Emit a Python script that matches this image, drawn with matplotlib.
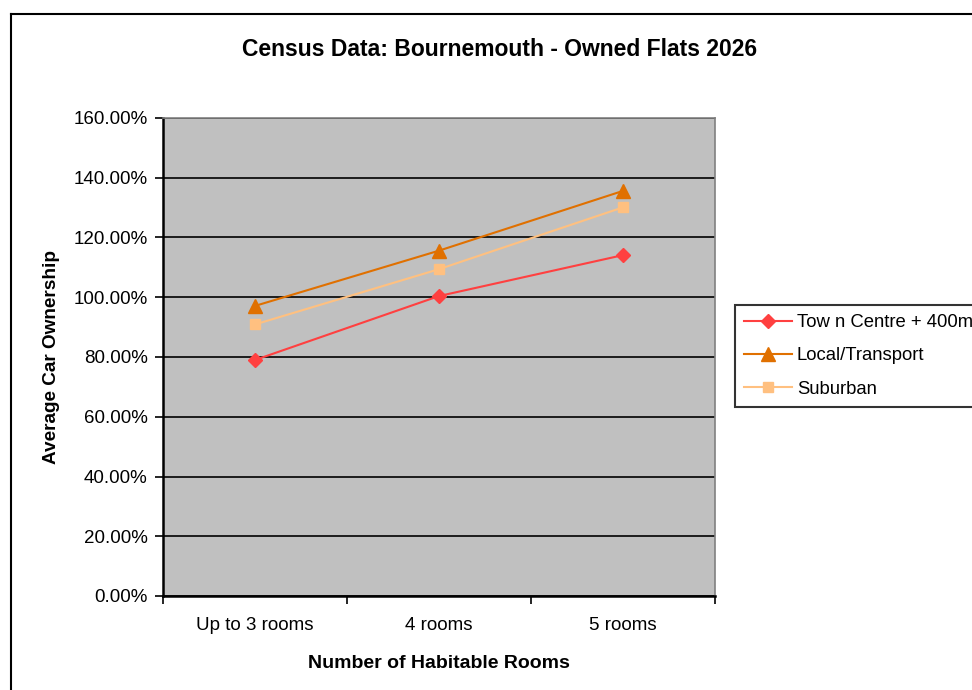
import matplotlib
matplotlib.use('Agg')
import matplotlib.pyplot as plt
from matplotlib.lines import Line2D
from matplotlib.ticker import FuncFormatter, MultipleLocator

plt.rcParams['font.family'] = ['Liberation Sans', 'DejaVu Sans']

rooms = ['Up to 3 rooms', '4 rooms', '5 rooms']
town_centre = [79.0, 100.4, 114.1]
local_transport = [97.1, 115.6, 135.6]
suburban = [90.9, 109.4, 130.1]

series = [
    ('Tow n Centre + 400m', town_centre, '#FF4040', 'D', 7.5),
    ('Local/Transport', local_transport, '#E07000', '^', 9.5),
    ('Suburban', suburban, '#FFC080', 's', 7.5),
]

W, H = 972, 690
fig = plt.figure(figsize=(W / 100, H / 100), dpi=100)
fig.patch.set_facecolor('white')

# chart area border (runs off the right and bottom edges)
fig.add_artist(Line2D([10.5 / W, 10.5 / W], [0, 1 - 14 / H], color='black', lw=1.5))
fig.add_artist(Line2D([10.5 / W, 1], [1 - 14 / H, 1 - 14 / H], color='black', lw=1.5))

ax = fig.add_axes([163 / W, 1 - 596 / H, (715 - 163) / W, (596 - 118) / H])
ax.set_facecolor('#C0C0C0')

x = list(range(len(rooms)))
for label, vals, color, marker, ms in series:
    ax.plot(x, vals, color=color, lw=1.5, marker=marker, markersize=ms,
            markerfacecolor=color, markeredgecolor=color, label=label, zorder=3)

ax.set_xlim(-0.5, len(rooms) - 0.5)
ax.set_ylim(0, 160)
ax.yaxis.set_major_locator(MultipleLocator(20))
ax.yaxis.set_major_formatter(FuncFormatter(lambda v, p: '%.2f%%' % v))
ax.grid(axis='y', color='black', lw=1.2)
ax.set_axisbelow(True)

ax.set_xticks([i - 0.5 for i in range(len(rooms) + 1)])
ax.set_xticklabels([])
ax.set_xticks(x, minor=True)
ax.set_xticklabels(rooms, minor=True)
ax.tick_params(axis='x', which='minor', length=0, pad=15, labelsize=13.5)
ax.tick_params(axis='x', which='major', length=6, width=1.2, direction='out')
ax.tick_params(axis='y', length=6, width=1.2, direction='out', pad=5, labelsize=13.5)

for side in ('left', 'bottom'):
    ax.spines[side].set_color('black')
    ax.spines[side].set_linewidth(1.8)
for side in ('top', 'right'):
    ax.spines[side].set_color('#808080')
    ax.spines[side].set_linewidth(1.2)

ax.set_xlabel('Number of Habitable Rooms', fontsize=14, fontweight='bold', labelpad=15)
ax.set_ylabel('Average Car Ownership', fontsize=13.7, fontweight='bold', labelpad=9.5)
fig.text(500 / W, 1 - 50 / H, 'Census Data: Bournemouth - Owned Flats 2026',
         ha='center', va='center', fontsize=16.5, fontweight='bold')

leg = fig.legend(loc='upper left', bbox_to_anchor=(735 / W, 1 - 305 / H),
                 frameon=True, fancybox=False, fontsize=13.3, handlelength=2.6,
                 borderpad=0.5, labelspacing=0.88, handletextpad=0.25, borderaxespad=0)
leg.get_frame().set_edgecolor('black')
leg.get_frame().set_linewidth(1.5)

fig.savefig('out.png', dpi=100)
